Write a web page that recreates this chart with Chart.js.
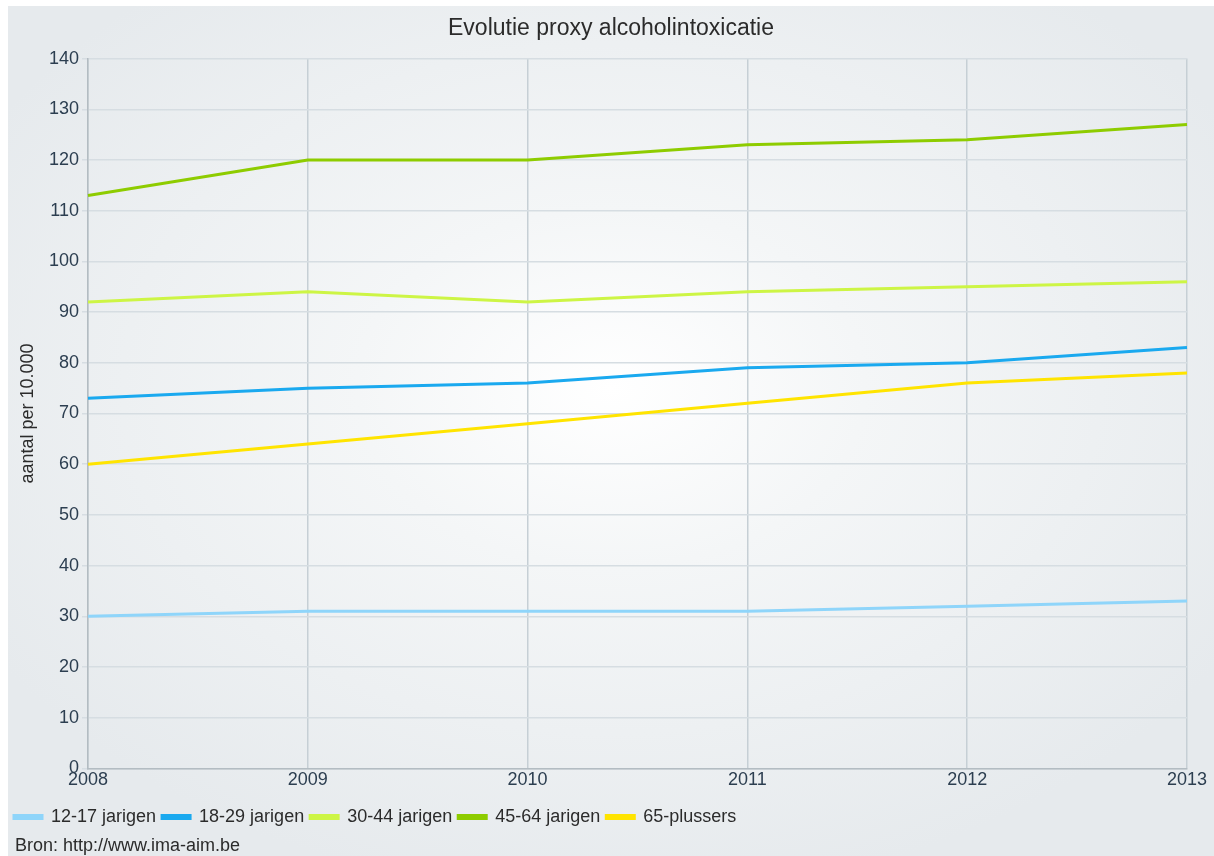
<!DOCTYPE html>
<html>
<head>
<meta charset="utf-8">
<script src="https://cdn.jsdelivr.net/npm/chart.js@4.4.1/dist/chart.umd.min.js"></script>
<style>
  html, body { margin: 0; padding: 0; background: #ffffff; }
  #wrap {
    position: absolute; left: 8px; top: 6px; width: 1206px; height: 850px;
    background: radial-gradient(ellipse 60% 60% at 50% 45%, #ffffff 0%, #f4f6f7 35%, #e6eaed 100%);
  }
  #bron {
    position: absolute; left: 7px; top: 829px;
    font-family: "Liberation Sans", Arial, sans-serif; font-size: 18px; color: #2b2b2b;
  }
</style>
</head>
<body>
<div id="wrap">
  <canvas id="chart" width="1206" height="850"></canvas>
  <div id="bron">Bron: http://www.ima-aim.be</div>
</div>
<script>
// Data
const years = ["2008", "2009", "2010", "2011", "2012", "2013"];
const group1217 = [30, 31, 31, 31, 32, 33];
const group1829 = [73, 75, 76, 79, 80, 83];
const group3044 = [92, 94, 92, 94, 95, 96];
const group4564 = [113, 120, 120, 123, 124, 127];
const group65plus = [60, 64, 68, 72, 76, 78];

const fontFamily = '"Liberation Sans", Arial, sans-serif';
const textColor = "#2c3e50";

function makeLine(label, data, color) {
  return {
    label: label,
    data: data,
    borderColor: color,
    backgroundColor: color,
    borderWidth: 3,
    pointRadius: 0,
    pointHoverRadius: 0,
    tension: 0,
    fill: false,
  };
}

const ctx = document.getElementById("chart").getContext("2d");
new Chart(ctx, {
  type: "line",
  data: {
    labels: years,
    datasets: [
      makeLine("12-17 jarigen", group1217, "#8fd5fa"),
      makeLine("18-29 jarigen", group1829, "#1aa9ef"),
      makeLine("30-44 jarigen", group3044, "#cdf545"),
      makeLine("45-64 jarigen", group4564, "#8ecc00"),
      makeLine("65-plussers", group65plus, "#ffe400"),
    ],
  },
  options: {
    responsive: false,
    animation: false,
    layout: { padding: { left: 0, right: 0, top: 7, bottom: 20 } },
    plugins: {
      title: {
        display: true,
        text: "Evolutie proxy alcoholintoxicatie",
        color: "#2b2b2b",
        font: { family: fontFamily, size: 23, weight: "normal" },
        padding: { top: 2, bottom: 16 },
      },
      legend: {
        position: "bottom",
        align: "start",
        labels: {
          boxWidth: 28,
          boxHeight: 3,
          color: "#2b2b2b",
          font: { family: fontFamily, size: 18 },
          padding: 6,
        },
      },
      tooltip: { enabled: false },
    },
    scales: {
      x: {
        offset: false,
        afterFit: (scale) => {
          scale.paddingRight = 27; // room right of the plot, as in the reference
          scale.height += 10; // extra gap above the legend
        },
        grid: {
          color: "#c6cfd5",
          lineWidth: 1.5,
          drawTicks: false,
        },
        border: { color: "#b3bcc2", width: 1.5 },
        ticks: {
          color: textColor,
          font: { family: fontFamily, size: 18 },
          padding: 1,
          maxRotation: 0,
        },
      },
      y: {
        min: 0,
        max: 140,
        afterFit: (scale) => {
          scale.width = 80; // fixed axis width so the plot starts where the reference does
        },
        grid: {
          color: "#d6dde2",
          lineWidth: 1.5,
          tickLength: 6,
        },
        border: { color: "#b3bcc2", width: 1.5 },
        ticks: {
          stepSize: 10,
          color: textColor,
          font: { family: fontFamily, size: 18 },
          padding: 3,
        },
        title: {
          display: true,
          text: "aantal per 10.000",
          color: "#2b2b2b",
          font: { family: fontFamily, size: 18 },
          padding: { top: 9, bottom: 0 },
        },
      },
    },
  },
});
</script>
</body>
</html>
